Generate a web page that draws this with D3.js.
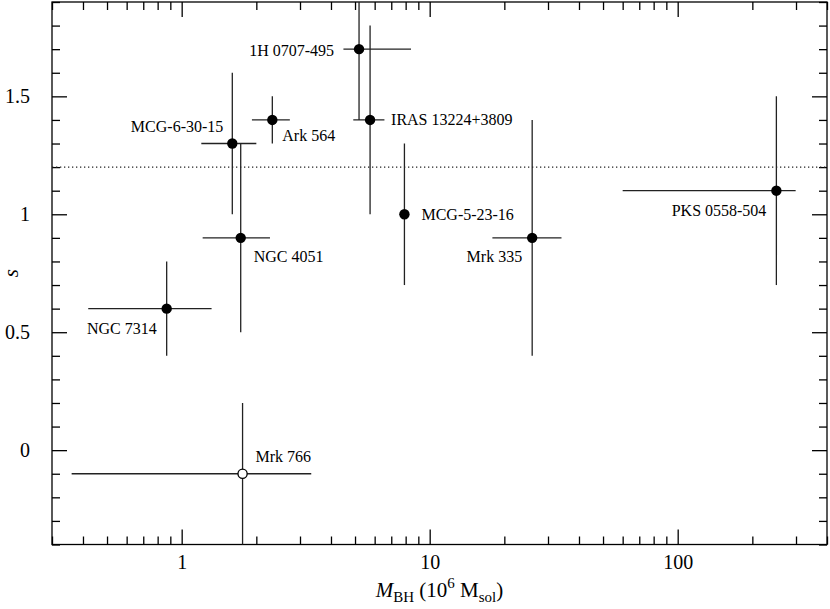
<!DOCTYPE html>
<html>
<head>
<meta charset="utf-8">
<script src="https://cdn.jsdelivr.net/npm/d3@7"></script>
<style>
  body { margin: 0; background: #fff; }
  svg { display: block; }
  .axis path, .axis line { stroke: #000; stroke-width: 1.3; }
  .axis text { font-family: "Times New Roman", "Liberation Serif", "DejaVu Serif", serif; font-size: 20px; fill: #000; }
  .err { stroke: #222; stroke-width: 1.3; }
  .lbl { font-family: "Times New Roman", "Liberation Serif", "DejaVu Serif", serif; font-size: 16px; fill: #000; }
  .ttl { font-family: "Times New Roman", "Liberation Serif", "DejaVu Serif", serif; font-size: 21px; fill: #000; }
</style>
</head>
<body>
<div class="chart"></div>
<script>
// sources
const names = ['NGC 7314', 'Mrk 766', 'MCG-6-30-15', 'NGC 4051', 'Ark 564',
  '1H 0707-495', 'IRAS 13224+3809', 'MCG-5-23-16', 'Mrk 335', 'PKS 0558-504'];
// black hole mass (10^6 Msol) with lower / upper bounds
const mass   = [0.87, 1.76, 1.60, 1.73, 2.32, 5.19, 5.75, 7.91, 25.9, 250];
const massLo = [0.42, 0.36, 1.20, 1.215, 1.92, 4.49, 4.92, 7.91, 17.9, 60];
const massHi = [1.32, 3.33, 2.00, 2.27, 2.73, 8.41, 6.57, 7.91, 34.0, 299];
// s with lower / upper bounds
const sVal = [0.6, -0.1, 1.3, 0.9, 1.4, 1.7, 1.4, 1.0, 0.9, 1.1];
const sLo  = [0.4, -0.5, 1.0, 0.5, 1.3, 1.4, 1.0, 0.7, 0.4, 0.7];
const sHi  = [0.8, 0.2, 1.6, 1.3, 1.5, 2.0, 1.8, 1.3, 1.4, 1.5];
const openMarker = [false, true, false, false, false, false, false, false, false, false];
const refLine = 1.2;
// ticks
const xMajor = [1, 10, 100];
const yMajor = [0, 0.5, 1, 1.5];

// where each name sits next to its point (dx, dy, anchor)
const labelPlace = [[-10, 25, 'end'], [13, -12, 'start'], [-9, -12, 'end'], [13, 24, 'start'],
  [10, 21, 'start'], [-25, 7, 'end'], [21, 5, 'start'], [17, 6, 'start'], [-10, 24, 'end'], [-10, 25, 'end']];

let chart = {
  config: { svgW: 830, svgH: 609, top: 2, right: 3, bottom: 64.5, left: 52 },
  init: function () {
    let c = this.config;
    this.w = c.svgW - c.left - c.right;
    this.h = c.svgH - c.top - c.bottom;
    this.svg = d3.select('.chart').append('svg')
      .attr('width', c.svgW).attr('height', c.svgH)
      .append('g')
      .attr('transform', `translate(${c.left},${c.top})`);
    this.x = d3.scaleLog().domain([0.3, 400]).range([0, this.w]);
    this.y = d3.scaleLinear().domain([-0.4, 1.9]).range([this.h, 0]);
    this.axes();
    this.marks();
  },
  axes: function () {
    let x = this.x, y = this.y, w = this.w, h = this.h, svg = this.svg;
    let xMinor = x.ticks().filter(d => xMajor.indexOf(d) < 0);
    let yMinor = y.ticks(23).filter(d => !yMajor.some(m => Math.abs(m - d) < 1e-6));
    let noLab = () => '';
    // bottom / top
    svg.append('g').attr('class', 'axis').attr('transform', `translate(0,${h})`)
      .call(d3.axisBottom(x).tickValues(xMajor).tickSizeInner(-15).tickSizeOuter(0).tickPadding(10).tickFormat(d3.format('d')));
    svg.append('g').attr('class', 'axis').attr('transform', `translate(0,${h})`)
      .call(d3.axisBottom(x).tickValues(xMinor).tickSizeInner(-8).tickSizeOuter(0).tickFormat(noLab));
    svg.append('g').attr('class', 'axis')
      .call(d3.axisTop(x).tickValues(xMajor).tickSizeInner(-15).tickSizeOuter(0).tickFormat(noLab));
    svg.append('g').attr('class', 'axis')
      .call(d3.axisTop(x).tickValues(xMinor).tickSizeInner(-8).tickSizeOuter(0).tickFormat(noLab));
    // left / right
    svg.append('g').attr('class', 'axis')
      .call(d3.axisLeft(y).tickValues(yMajor).tickSizeInner(-15).tickSizeOuter(0).tickPadding(22).tickFormat(d => d));
    svg.append('g').attr('class', 'axis')
      .call(d3.axisLeft(y).tickValues(yMinor).tickSizeInner(-8).tickSizeOuter(0).tickFormat(noLab));
    svg.append('g').attr('class', 'axis').attr('transform', `translate(${w},0)`)
      .call(d3.axisRight(y).tickValues(yMajor).tickSizeInner(-15).tickSizeOuter(0).tickFormat(noLab));
    svg.append('g').attr('class', 'axis').attr('transform', `translate(${w},0)`)
      .call(d3.axisRight(y).tickValues(yMinor).tickSizeInner(-8).tickSizeOuter(0).tickFormat(noLab));
    svg.selectAll('.axis .domain').remove();
    // frame
    svg.append('rect').attr('width', w).attr('height', h)
      .attr('fill', 'none').attr('stroke', '#000').attr('stroke-width', 1.3);

    // axis titles
    let t = svg.append('text').attr('class', 'ttl')
      .attr('x', w / 2).attr('y', h + 52)
      .attr('text-anchor', 'middle');
    t.append('tspan').style('font-style', 'italic').text('M');
    t.append('tspan').attr('dy', 5).style('font-size', '15px').text('BH');
    t.append('tspan').attr('dy', -5).text(' (10');
    t.append('tspan').attr('dy', -9).style('font-size', '15px').text('6');
    t.append('tspan').attr('dy', 9).text(' M');
    t.append('tspan').attr('dy', 5).style('font-size', '15px').text('sol');
    t.append('tspan').attr('dy', -5).text(')');

    svg.append('text').attr('class', 'ttl')
      .attr('transform', `translate(${-34},${h / 2}) rotate(-90)`)
      .attr('text-anchor', 'middle')
      .style('font-style', 'italic')
      .text('s');
  },
  marks: function () {
    let x = this.x, y = this.y, svg = this.svg;
    svg.append('clipPath').attr('id', 'clip')
      .append('rect').attr('width', this.w).attr('height', this.h);
    let plot = svg.append('g').attr('clip-path', 'url(#clip)');

    // dotted reference line
    plot.append('line')
      .attr('x1', 0).attr('x2', this.w)
      .attr('y1', y(refLine)).attr('y2', y(refLine))
      .attr('stroke', '#222').attr('stroke-width', 1.2)
      .attr('stroke-dasharray', '1.3,2.7');

    let idx = d3.range(names.length);
    // error bars
    plot.selectAll('line.ex').data(idx).enter().append('line')
      .attr('class', 'err ex')
      .attr('x1', i => x(massLo[i])).attr('x2', i => x(massHi[i]))
      .attr('y1', i => y(sVal[i])).attr('y2', i => y(sVal[i]));
    plot.selectAll('line.ey').data(idx).enter().append('line')
      .attr('class', 'err ey')
      .attr('x1', i => x(mass[i])).attr('x2', i => x(mass[i]))
      .attr('y1', i => y(sLo[i])).attr('y2', i => y(sHi[i]));
    // points
    plot.selectAll('circle.pt').data(idx).enter().append('circle')
      .attr('class', 'pt')
      .attr('cx', i => x(mass[i])).attr('cy', i => y(sVal[i]))
      .attr('r', i => openMarker[i] ? 4.6 : 5.2)
      .attr('fill', i => openMarker[i] ? '#fff' : '#000')
      .attr('stroke', '#000').attr('stroke-width', i => openMarker[i] ? 1.3 : 0);
    // names
    svg.selectAll('text.lbl').data(idx).enter().append('text')
      .attr('class', 'lbl')
      .attr('x', i => x(mass[i]) + labelPlace[i][0])
      .attr('y', i => y(sVal[i]) + labelPlace[i][1])
      .attr('text-anchor', i => labelPlace[i][2])
      .text(i => names[i]);
  }
};

chart.init();
</script>
</body>
</html>
